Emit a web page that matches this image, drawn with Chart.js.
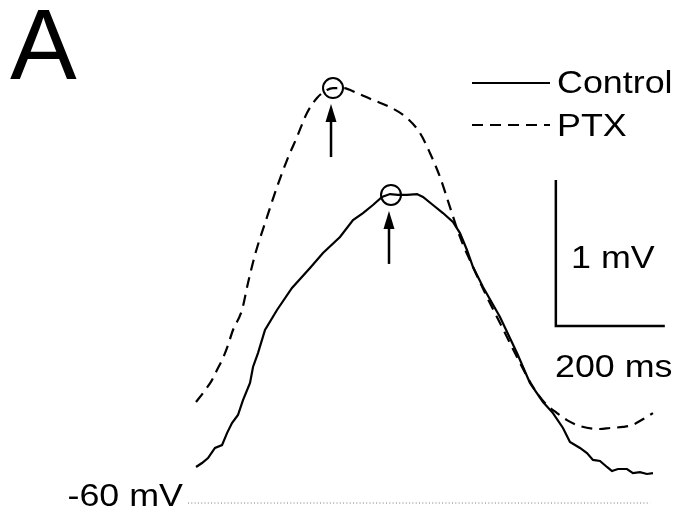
<!DOCTYPE html>
<html>
<head>
<meta charset="utf-8">
<script src="https://cdn.jsdelivr.net/npm/chart.js@4/dist/chart.umd.min.js"></script>
<style>
  html, body { margin: 0; padding: 0; background: #fff; }
  #trace { display: block; }
</style>
</head>
<body>
<canvas id="trace" width="679" height="515"></canvas>
<script>
// time (ms) and membrane potential (mV)
var controlTime = [14.7, 25.7, 36.7, 49.5, 62.4, 71.6, 80.7, 91.7, 100.9, 113.8, 119.3, 128.4, 141.3, 163.3, 190.8, 223.9, 247.7, 278.9, 302.8, 321.1, 339.4, 356.0, 370.6, 385.3, 401.8, 420.2, 431.2, 449.5, 467.9, 486.2, 499.1, 511.9, 523.0, 541.3, 572.5, 603.7, 627.5, 651.4, 669.7, 688.1, 700.9, 719.3, 732.1, 743.1, 756.0, 768.8, 778.0, 789.0, 805.5, 816.5, 829.4, 842.2, 853.2];
var controlVm = [-59.753, -59.726, -59.692, -59.623, -59.603, -59.521, -59.452, -59.397, -59.295, -59.178, -59.068, -58.973, -58.815, -58.678, -58.527, -58.390, -58.288, -58.178, -58.062, -58.014, -57.959, -57.904, -57.884, -57.890, -57.890, -57.884, -57.904, -57.959, -58.014, -58.075, -58.151, -58.267, -58.384, -58.521, -58.726, -58.973, -59.178, -59.308, -59.384, -59.486, -59.582, -59.623, -59.658, -59.705, -59.712, -59.753, -59.781, -59.767, -59.767, -59.795, -59.788, -59.801, -59.795];

var ptxTime = [14.7, 27.5, 44.0, 53.2, 64.2, 71.6, 82.6, 99.1, 110.1, 122.9, 145.0, 163.3, 181.7, 200.0, 218.3, 236.7, 255.0, 266.1, 284.4, 310.1, 339.4, 370.6, 401.8, 425.7, 444.0, 462.4, 480.7, 499.1, 523.0, 548.6, 572.5, 603.7, 633.0, 655.0, 677.1, 695.4, 719.3, 756.0, 774.3, 798.2, 814.7, 838.5, 853.2];
var ptxVm = [-59.308, -59.247, -59.158, -59.089, -59.007, -58.938, -58.815, -58.678, -58.493, -58.301, -58.041, -57.836, -57.651, -57.493, -57.329, -57.226, -57.171, -57.158, -57.158, -57.192, -57.240, -57.288, -57.363, -57.466, -57.603, -57.767, -57.973, -58.178, -58.384, -58.589, -58.767, -59.000, -59.205, -59.315, -59.384, -59.432, -59.473, -59.493, -59.486, -59.479, -59.466, -59.418, -59.384];

// peak markers: [PTX, Control]
var peakTime = [266.1, 372.5];
var peakVm = [-57.158, -57.890];

var restVm = -60;
var restSpan = [0, 848];

// scale bar: 200 ms by 1 mV
var barTime = [675, 675, 875];
var barVm = [-57.788, -58.788, -58.788];

function pts(xs, ys) {
    return xs.map(function (x, i) { return { x: x, y: ys[i] }; });
}

var FONT = '"Liberation Sans", Arial, Helvetica, sans-serif';

// text drawn slightly wide, like the original figure lettering
function wideText(ctx, str, x, y, size, align) {
    var stretch = 1.12;
    ctx.save();
    ctx.font = size + 'px ' + FONT;
    var w = ctx.measureText(str).width * stretch;
    var left = align === 'right' ? x - w : x;
    ctx.translate(left, y);
    ctx.scale(stretch, 1);
    ctx.textAlign = 'left';
    ctx.textBaseline = 'alphabetic';
    ctx.fillText(str, 0, 0);
    ctx.restore();
}

// legend, labels and peak arrows
var annotate = {
    id: 'annotate',
    afterDatasetsDraw: function (chart) {
        var ctx = chart.ctx;
        var sx = chart.scales.x, sy = chart.scales.y;
        ctx.save();
        ctx.fillStyle = '#000';
        ctx.strokeStyle = '#000';

        // arrows under each peak
        for (var i = 0; i < peakTime.length; i++) {
            var x = sx.getPixelForValue(peakTime[i]) - 2;
            var yc = sy.getPixelForValue(peakVm[i]);
            var tip = yc + 16, tail = yc + 69;
            ctx.lineWidth = 2.5;
            ctx.beginPath();
            ctx.moveTo(x, tail);
            ctx.lineTo(x, tip + 12);
            ctx.stroke();
            ctx.beginPath();
            ctx.moveTo(x, tip);
            ctx.lineTo(x - 5.5, tip + 18);
            ctx.lineTo(x + 5.5, tip + 18);
            ctx.closePath();
            ctx.fill();
        }

        // legend
        ctx.lineWidth = 2;
        ctx.beginPath();
        ctx.moveTo(472, 83);
        ctx.lineTo(550, 83);
        ctx.stroke();
        ctx.setLineDash([11, 7]);
        ctx.beginPath();
        ctx.moveTo(472, 125);
        ctx.lineTo(550, 125);
        ctx.stroke();
        ctx.setLineDash([]);

        wideText(ctx, 'Control', 557, 93, 32);
        wideText(ctx, 'PTX', 557, 136, 32);

        // scale bar labels
        wideText(ctx, '1 mV', 571, 268, 32);
        wideText(ctx, '200 ms', 555, 377, 32);

        // resting level label
        wideText(ctx, '-60 mV', 183, 506, 32, 'right');

        // panel letter
        ctx.font = '100px ' + FONT;
        ctx.textAlign = 'left';
        ctx.textBaseline = 'alphabetic';
        ctx.fillText('A', 10, 79);
        ctx.restore();
    }
};

new Chart(document.getElementById('trace'), {
    type: 'scatter',
    data: {
        datasets: [
            {
                label: 'Control',
                data: pts(controlTime, controlVm),
                showLine: true,
                borderColor: '#000',
                borderWidth: 2.2,
                pointRadius: 0,
                tension: 0
            },
            {
                label: 'PTX',
                data: pts(ptxTime, ptxVm),
                showLine: true,
                borderColor: '#000',
                borderWidth: 2.2,
                borderDash: [11, 7],
                pointRadius: 0,
                cubicInterpolationMode: 'monotone'
            },
            {
                label: 'peaks',
                data: pts(peakTime, peakVm),
                showLine: false,
                pointStyle: 'circle',
                pointRadius: 10,
                pointBorderWidth: 2,
                pointBorderColor: '#000',
                pointBackgroundColor: 'rgba(0,0,0,0)'
            },
            {
                label: 'rest',
                data: pts(restSpan, [restVm, restVm]),
                showLine: true,
                borderColor: '#777',
                borderWidth: 1,
                borderDash: [1, 2.3],
                pointRadius: 0
            },
            {
                label: 'scale',
                data: pts(barTime, barVm),
                showLine: true,
                borderColor: '#000',
                borderWidth: 2.5,
                pointRadius: 0,
                tension: 0
            }
        ]
    },
    options: {
        responsive: false,
        animation: false,
        layout: { padding: 0, autoPadding: false },
        plugins: {
            legend: { display: false },
            tooltip: { enabled: false }
        },
        scales: {
            x: { type: 'linear', display: false, min: -345, max: 901 },
            y: { type: 'linear', display: false, min: -60.082, max: -56.555 }
        }
    },
    plugins: [annotate]
});
</script>
</body>
</html>
